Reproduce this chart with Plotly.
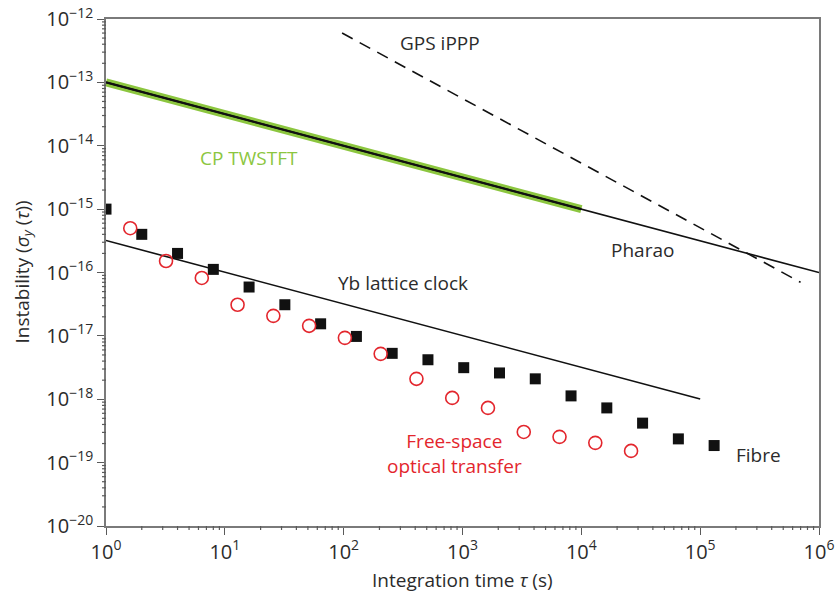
import math
import plotly.graph_objects as go

# Integration times (s) and instabilities for each link / clock
fibre_tau = [1, 2, 4, 8, 16, 32, 64, 128, 256, 512, 1024, 2048, 4096, 8192, 16384, 32768, 65536, 131072]
fibre_sigma = [1.0e-15, 4.0e-16, 2.0e-16, 1.12e-16, 5.9e-17, 3.1e-17, 1.55e-17, 9.8e-18, 5.3e-18,
               4.2e-18, 3.15e-18, 2.6e-18, 2.1e-18, 1.13e-18, 7.3e-19, 4.2e-19, 2.37e-19, 1.86e-19]

fso_tau = [1.6, 3.2, 6.4, 12.8, 25.6, 51.2, 102.4, 204.8, 409.6, 819.2, 1638, 3277, 6554, 13107, 26214]
fso_sigma = [5.0e-16, 1.52e-16, 8.2e-17, 3.1e-17, 2.07e-17, 1.44e-17, 9.3e-18, 5.2e-18, 2.1e-18,
             1.05e-18, 7.3e-19, 3.05e-19, 2.55e-19, 2.05e-19, 1.53e-19]

pharao_tau = [1, 1e6]
pharao_sigma = [1e-13, 1e-16]

twstft_tau = [1, 1e4]
twstft_sigma = [1e-13, 1e-15]

yb_tau = [1, 1e5]
yb_sigma = [3.2e-16, 1.01e-18]

gps_tau = [97, 7e5]
gps_sigma = [6.0e-13, 7.0e-17]

x_ticks = [1, 10, 100, 1e3, 1e4, 1e5, 1e6]
x_ticktext = ["10<sup>0</sup>", "10<sup>1</sup>", "10<sup>2</sup>", "10<sup>3</sup>",
              "10<sup>4</sup>", "10<sup>5</sup>", "10<sup>6</sup>"]
y_ticks = [1e-20, 1e-19, 1e-18, 1e-17, 1e-16, 1e-15, 1e-14, 1e-13, 1e-12]
y_ticktext = ["10<sup>−20</sup>", "10<sup>−19</sup>", "10<sup>−18</sup>", "10<sup>−17</sup>",
              "10<sup>−16</sup>", "10<sup>−15</sup>", "10<sup>−14</sup>", "10<sup>−13</sup>",
              "10<sup>−12</sup>"]

X_RANGE = [0, 6]      # log10 of tau
Y_RANGE = [-20, -12]  # log10 of sigma

FONT = "Open Sans"
TXT = "#2b2b2b"
GREEN = "#8cc63f"
RED = "#e3262d"
AXC = "#7a7a7a"
TICKC = "#5a5a5a"

W, H = 837, 595
ML, MR, MT, MB = 106, 18, 19, 69
PW, PH = W - ML - MR, H - MT - MB

fig = go.Figure()

fig.add_trace(go.Scatter(x=twstft_tau, y=twstft_sigma, mode="lines",
                         line=dict(color=GREEN, width=8), hoverinfo="skip"))
fig.add_trace(go.Scatter(x=pharao_tau, y=pharao_sigma, mode="lines",
                         line=dict(color="#111111", width=1.6)))
fig.add_trace(go.Scatter(x=twstft_tau, y=twstft_sigma, mode="lines",
                         line=dict(color="#111111", width=2.2)))
fig.add_trace(go.Scatter(x=yb_tau, y=yb_sigma, mode="lines",
                         line=dict(color="#111111", width=1.6)))
fig.add_trace(go.Scatter(x=gps_tau, y=gps_sigma, mode="lines",
                         line=dict(color="#111111", width=1.6, dash="12px,8px")))
fig.add_trace(go.Scatter(x=fibre_tau, y=fibre_sigma, mode="markers",
                         marker=dict(symbol="square", size=11, color="#111111")))
fig.add_trace(go.Scatter(x=fso_tau, y=fso_sigma, mode="markers",
                         marker=dict(symbol="circle-open", size=13, color=RED,
                                     line=dict(width=1.6, color=RED))))

labels = [
    ("GPS iPPP", 650, 10 ** -12.38, TXT),
    ("CP TWSTFT", 16, 10 ** -14.19, GREEN),
    ("Pharao", 3.3e4, 10 ** -15.64, TXT),
    ("Yb lattice clock", 316, 10 ** -16.16, TXT),
    ("Free-space<br>optical transfer", 850, 10 ** -18.85, RED),
    ("Fibre", 3.1e5, 10 ** -18.88, TXT),
]
for text, lx, ly, col in labels:
    fig.add_annotation(x=math.log10(lx), y=math.log10(ly),
                       xref="x", yref="y", text=text, showarrow=False,
                       font=dict(family=FONT, size=19, color=col), align="center")

# axis titles
fig.add_annotation(x=0.5, y=-54 / PH, xref="paper", yref="paper", showarrow=False,
                   xanchor="center", yanchor="middle",
                   text="Integration time <i>τ</i> (s)",
                   font=dict(family=FONT, size=19, color=TXT))
fig.add_annotation(x=-84 / PW, y=0.5, xref="paper", yref="paper", showarrow=False,
                   xanchor="center", yanchor="middle",
                   textangle=-90, text="Instability (<i>σ</i><sub><i>y</i></sub> (<i>τ</i>))",
                   font=dict(family=FONT, size=19, color=TXT))

# minor ticks (2..9 in every decade) drawn just outside the left and bottom axes
MINOR_LEN = 4
for e in range(X_RANGE[0], X_RANGE[1]):
    for m in range(2, 10):
        px = (math.log10(m * 10.0 ** e) - X_RANGE[0]) / (X_RANGE[1] - X_RANGE[0])
        fig.add_shape(type="line", xref="paper", yref="paper", x0=px, x1=px,
                      y0=0, y1=-MINOR_LEN / PH, line=dict(color=TICKC, width=1.2),
                      layer="above")
for e in range(Y_RANGE[0], Y_RANGE[1]):
    for m in range(2, 10):
        py = (math.log10(m * 10.0 ** e) - Y_RANGE[0]) / (Y_RANGE[1] - Y_RANGE[0])
        fig.add_shape(type="line", xref="paper", yref="paper", y0=py, y1=py,
                      x0=0, x1=-MINOR_LEN / PW, line=dict(color=TICKC, width=1.2),
                      layer="above")

axis_common = dict(
    showline=True, linecolor=AXC, linewidth=1.5, mirror=True,
    ticks="outside", ticklen=7, tickcolor=TICKC, tickwidth=1.2,
    showgrid=False, zeroline=False, automargin=False,
    tickfont=dict(family=FONT, size=20, color=TXT),
)

fig.update_layout(
    width=W, height=H,
    margin=dict(l=ML, r=MR, t=MT, b=MB),
    paper_bgcolor="white", plot_bgcolor="white",
    showlegend=False,
    xaxis=dict(type="log", range=X_RANGE, tickvals=x_ticks, ticktext=x_ticktext, **axis_common),
    yaxis=dict(type="log", range=Y_RANGE, tickvals=y_ticks, ticktext=y_ticktext, **axis_common),
)

fig.write_html("out.html")
